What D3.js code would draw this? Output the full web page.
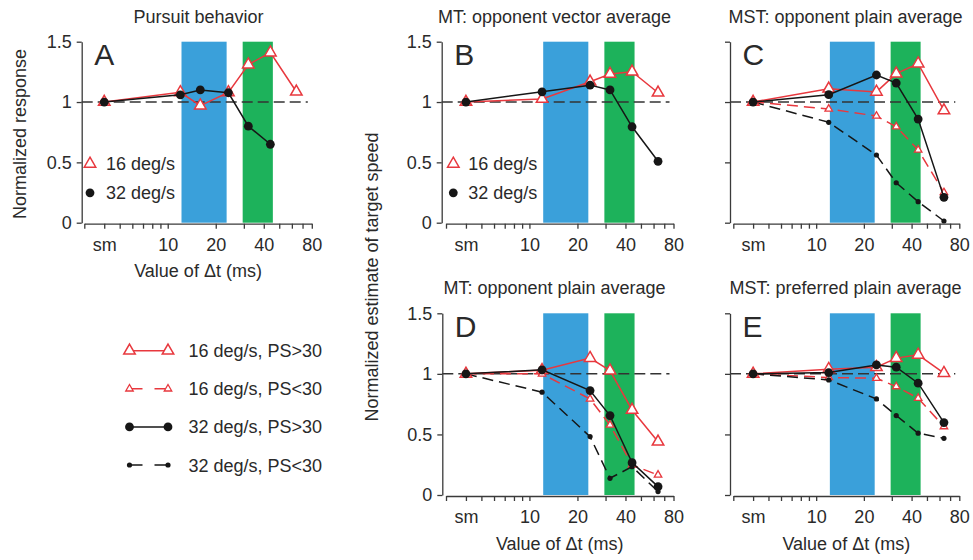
<!DOCTYPE html>
<html>
<head>
<meta charset="utf-8">
<script src="https://cdn.jsdelivr.net/npm/d3@7"></script>
<style>
  body { margin: 0; background: #fff; }
  svg { font-family: "Liberation Sans", Arial, Helvetica, sans-serif; }
</style>
</head>
<body>
<svg id="chart" width="973" height="560"></svg>
<script>
// x values in ms; 4 stands for the "sm" (smooth motion) position
let dtPursuit16 = [4, 12, 16, 24, 32, 44, 64];
let dtPursuit32 = [4, 12, 16, 24, 32, 44];
let dtModel = [4, 12, 24, 32, 44, 64];

let pursuit16 = [1.0, 1.08, 0.97, 1.08, 1.31, 1.41, 1.085];
let pursuit32 = [1.0, 1.06, 1.10, 1.077, 0.80, 0.65];

let mtVector16 = [1.0, 1.025, 1.168, 1.232, 1.251, 1.077];
let mtVector32 = [1.0, 1.085, 1.14, 1.10, 0.795, 0.509];

let mstOpp16hi = [1.0, 1.11, 1.084, 1.235, 1.318, 0.93];
let mstOpp16lo = [1.0, 0.943, 0.884, 0.795, 0.603, 0.25];
let mstOpp32hi = [1.0, 1.061, 1.224, 1.157, 0.859, 0.21];
let mstOpp32lo = [1.0, 0.832, 0.561, 0.331, 0.174, 0.014];

let mtPlain16hi = [1.0, 1.03, 1.13, 1.027, 0.702, 0.44];
let mtPlain16lo = [1.0, 1.0, 0.793, 0.578, 0.248, 0.165];
let mtPlain32hi = [1.0, 1.033, 0.862, 0.656, 0.267, 0.069];
let mtPlain32lo = [1.0, 0.849, 0.482, 0.138, 0.234, 0.028];

let mstPref16hi = [1.0, 1.039, 1.055, 1.13, 1.157, 1.006];
let mstPref16lo = [1.0, 0.97, 0.964, 0.895, 0.799, 0.565];
let mstPref32hi = [1.0, 1.011, 1.074, 1.055, 0.923, 0.598];
let mstPref32lo = [1.0, 0.95, 0.793, 0.656, 0.51, 0.468];

let blueBand = [12.2, 23.4];
let greenBand = [29.5, 45.6];

let xTickVals = [3, 4, 5, 6, 7, 8, 9, 10, 20, 30, 40, 50, 60, 70, 80];
let xLabelVals = [4, 10, 20, 40, 80];
let xLabelText = ['sm', '10', '20', '40', '80'];
let yTickVals = [0, 0.5, 1, 1.5];
let yTickText = ['0', '0.5', '1', '1.5'];

let legendText = ['16 deg/s, PS>30', '16 deg/s, PS<30', '32 deg/s, PS>30', '32 deg/s, PS<30'];

const RED = '#e8383e';
const BLACK = '#161616';
const TEXT = '#2a2a2a';
const AXIS = '#3a3a3a';
const FONT = 18;

const svg = d3.select('#chart');

function zip(xs, ys) {
  return xs.map((x, i) => [x, ys[i]]);
}

function s16(xs, ys, dashed) {
  return {pts: zip(xs, ys), color: RED, dashed: dashed, marker: 'tri', big: !dashed};
}
function s32(xs, ys, dashed) {
  return {pts: zip(xs, ys), color: BLACK, dashed: dashed, marker: 'dot', big: !dashed};
}

const panels = [
  {letter: 'A', title: 'Pursuit behavior', x0: 84.3, w: 227.5, top: 41.7, bot: 222.7, axisX: 81.7,
    titleX: 198.5, yLabels: true, xLabel: true, legend: [90, 106],
    series: [s16(dtPursuit16, pursuit16, false), s32(dtPursuit32, pursuit32, false)]},
  {letter: 'B', title: 'MT: opponent vector average', x0: 446, w: 227.5, top: 41.7, bot: 222.7, axisX: 441.7,
    titleX: 554.5, yLabels: true, xLabel: false, legend: [453.3, 468.3],
    series: [s16(dtModel, mtVector16, false), s32(dtModel, mtVector32, false)]},
  {letter: 'C', title: 'MST: opponent plain average', x0: 733.3, w: 226, top: 41.7, bot: 222.7, axisX: 730,
    titleX: 845.5, yLabels: false, xLabel: false,
    series: [s16(dtModel, mstOpp16lo, true), s32(dtModel, mstOpp32lo, true),
             s16(dtModel, mstOpp16hi, false), s32(dtModel, mstOpp32hi, false)]},
  {letter: 'D', title: 'MT: opponent plain average', x0: 446, w: 227.5, top: 313.3, bot: 495, axisX: 442.3,
    titleX: 554.5, yLabels: true, xLabel: true,
    series: [s16(dtModel, mtPlain16lo, true), s32(dtModel, mtPlain32lo, true),
             s16(dtModel, mtPlain16hi, false), s32(dtModel, mtPlain32hi, false)]},
  {letter: 'E', title: 'MST: preferred plain average', x0: 733.3, w: 226, top: 313.3, bot: 495, axisX: 730,
    titleX: 845.5, yLabels: false, xLabel: true,
    series: [s16(dtModel, mstPref16lo, true), s32(dtModel, mstPref32lo, true),
             s16(dtModel, mstPref16hi, false), s32(dtModel, mstPref32hi, false)]}
];

function triPath(cx, cy, w) {
  let h = w * 0.87;
  return `M${cx},${cy - h * 2 / 3}L${cx + w / 2},${cy + h / 3}L${cx - w / 2},${cy + h / 3}Z`;
}

function drawMarker(g, cx, cy, marker, big, color) {
  if (marker === 'tri') {
    g.append('path')
      .attr('d', triPath(cx, cy, big ? 11.5 : 7.5))
      .attr('fill', '#fff')
      .attr('stroke', color)
      .attr('stroke-width', big ? 1.5 : 1.3);
  } else {
    g.append('circle')
      .attr('cx', cx).attr('cy', cy)
      .attr('r', big ? 4.4 : 2.6)
      .attr('fill', color);
  }
}

function styleAxis(g) {
  g.selectAll('path, line').attr('stroke', AXIS).attr('stroke-width', 1.3);
  g.selectAll('text').attr('fill', TEXT).attr('font-size', FONT)
    .attr('font-family', '"Liberation Sans", Arial, Helvetica, sans-serif');
}

function drawPanel(p) {
  let x = d3.scaleLog().domain([3, 80]).range([p.x0, p.x0 + p.w]);
  let y = d3.scaleLinear().domain([0, 1.5]).range([p.bot, p.top]);
  let g = svg.append('g');

  // highlighted Δt ranges
  [[blueBand, '#3aa0da'], [greenBand, '#1db25b']].forEach(([band, col]) => {
    g.append('rect')
      .attr('x', x(band[0])).attr('y', y(1.5))
      .attr('width', x(band[1]) - x(band[0]))
      .attr('height', y(0) - y(1.5))
      .attr('fill', col);
  });

  // reference line at 1
  g.append('line')
    .attr('x1', p.axisX).attr('x2', x(80) - 4)
    .attr('y1', y(1)).attr('y2', y(1))
    .attr('stroke', '#333').attr('stroke-width', 1.5)
    .attr('stroke-dasharray', '11,5');

  let line = d3.line().x(d => x(d[0])).y(d => y(d[1]));
  p.series.forEach(s => {
    g.append('path')
      .attr('d', line(s.pts))
      .attr('fill', 'none')
      .attr('stroke', s.color)
      .attr('stroke-width', 1.5)
      .attr('stroke-dasharray', s.dashed ? '11,6' : null);
    s.pts.forEach(d => drawMarker(g, x(d[0]), y(d[1]), s.marker, s.big, s.color));
  });

  // axes
  let yAxis = d3.axisLeft(y).tickValues(yTickVals).tickSize(5).tickSizeOuter(0).tickPadding(5)
    .tickFormat((d, i) => p.yLabels ? yTickText[i] : '');
  let ya = g.append('g').attr('transform', `translate(${p.axisX},0)`).call(yAxis);
  styleAxis(ya);

  let xAxis = d3.axisBottom(x).tickValues(xTickVals).tickSize(5).tickSizeOuter(0).tickPadding(9.5)
    .tickFormat(d => {
      let i = xLabelVals.indexOf(d);
      return i >= 0 ? xLabelText[i] : '';
    });
  let xa = g.append('g').attr('transform', `translate(0,${p.bot + 1})`).call(xAxis);
  styleAxis(xa);

  // panel letter and title
  g.append('text')
    .attr('x', p.axisX + 12.5).attr('y', p.top + 23.5)
    .attr('font-size', 30).attr('fill', TEXT)
    .text(p.letter);
  g.append('text')
    .attr('x', p.titleX).attr('y', p.top - 19)
    .attr('text-anchor', 'middle').attr('font-size', FONT).attr('fill', TEXT)
    .text(p.title);

  if (p.xLabel) {
    g.append('text')
      .attr('x', p.x0 + p.w / 2).attr('y', p.bot + 54.5)
      .attr('text-anchor', 'middle').attr('font-size', FONT).attr('fill', TEXT)
      .text('Value of \u0394t (ms)');
  }

  if (p.legend) {
    let [mx, tx] = p.legend;
    drawMarker(g, mx, y(0.5) + 1.5, 'tri', true, RED);
    g.append('text').attr('x', tx).attr('y', y(0.5) + 8)
      .attr('font-size', FONT).attr('fill', TEXT).text('16 deg/s');
    drawMarker(g, mx, y(0.5) + 30.5, 'dot', true, BLACK);
    g.append('text').attr('x', tx).attr('y', y(0.5) + 37)
      .attr('font-size', FONT).attr('fill', TEXT).text('32 deg/s');
  }
}

panels.forEach(drawPanel);

// y axis titles
svg.append('text')
  .attr('transform', 'translate(26,134) rotate(-90)')
  .attr('text-anchor', 'middle').attr('font-size', FONT).attr('fill', TEXT)
  .text('Normalized response');
svg.append('text')
  .attr('transform', 'translate(378,277) rotate(-90)')
  .attr('text-anchor', 'middle').attr('font-size', FONT).attr('fill', TEXT)
  .text('Normalized estimate of target speed');

// shared legend for panels C-E
let legendRows = [
  {color: RED, marker: 'tri', big: true, dashed: false},
  {color: RED, marker: 'tri', big: false, dashed: true},
  {color: BLACK, marker: 'dot', big: true, dashed: false},
  {color: BLACK, marker: 'dot', big: false, dashed: true}
];
let legend = svg.append('g');
legendRows.forEach((r, i) => {
  let ly = 350.7 + i * 38.1;
  legend.append('line')
    .attr('x1', 129.5).attr('x2', 168).attr('y1', ly).attr('y2', ly)
    .attr('stroke', r.color).attr('stroke-width', 1.5)
    .attr('stroke-dasharray', r.dashed ? '13,12' : null);
  drawMarker(legend, 129.5, ly, r.marker, r.big, r.color);
  drawMarker(legend, 168, ly, r.marker, r.big, r.color);
  legend.append('text')
    .attr('x', 188.5).attr('y', ly + 6.5)
    .attr('font-size', FONT).attr('fill', TEXT)
    .text(legendText[i]);
});
</script>
</body>
</html>
